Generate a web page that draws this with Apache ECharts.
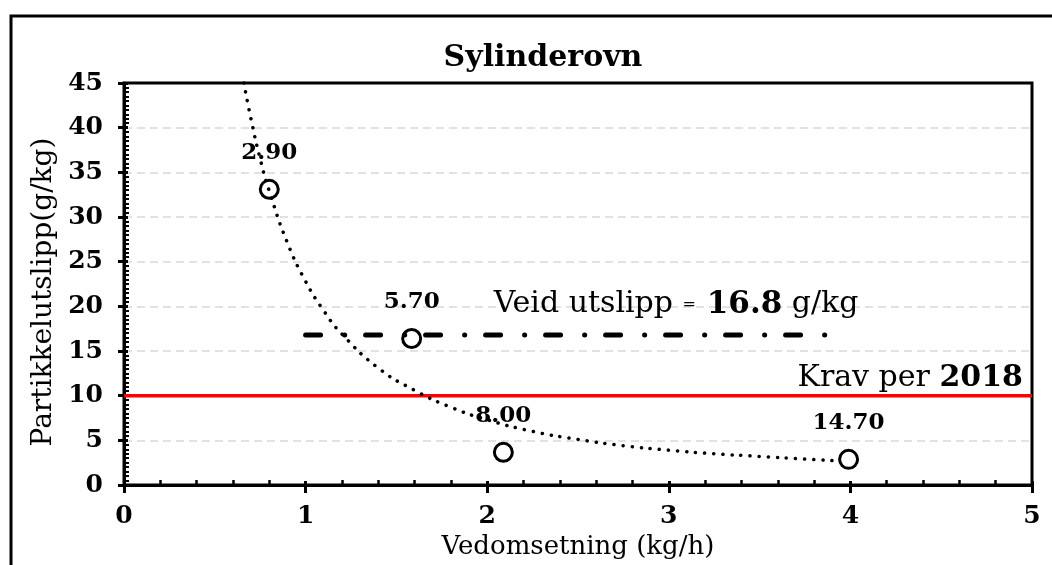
<!DOCTYPE html>
<html>
<head>
<meta charset="utf-8">
<title>Sylinderovn</title>
<script src="https://cdn.jsdelivr.net/npm/echarts@6/dist/echarts.min.js"></script>
<style>
  html, body { margin: 0; padding: 0; background: #fff; }
  #chart { width: 1052px; height: 565px; }
</style>
</head>
<body>
<div id="chart"></div>
<script>
// measured points
const burnRate = [0.8, 1.584, 2.089, 3.99];
const emission = [33.1, 16.4, 3.66, 2.87];
const pointLabels = ["2.90", "5.70", "8.00", "14.70"];

// dotted trend line
const trendX = [0.66, 0.7, 0.75, 0.8, 0.9, 1.0, 1.1, 1.2, 1.4, 1.6, 1.8, 2.0, 2.25, 2.5, 2.75, 3.0, 3.25, 3.5, 3.75, 3.93];
const trendY = [45.0, 40.9, 36.5, 32.9, 27.1, 22.8, 19.5, 16.9, 13.1, 10.6, 8.7, 7.3, 6.0, 5.1, 4.4, 3.9, 3.5, 3.2, 2.9, 2.7];

// weighted emission line and 2018 requirement
const weightedValue = 16.8;
const weightedFrom = 1.0;
const weightedTo = 3.89;
const limitValue = 10;
const limitYear = "2018";

// axis ranges
const xRange = [0, 5];
const yRange = [0, 45];

const serif = "'DejaVu Serif', 'Liberation Serif', serif";

function initChart() {
  const chart = echarts.init(document.getElementById("chart"));
  const option = {
    animation: false,
    backgroundColor: "#fff",
    title: {
      text: "Sylinderovn",
      left: 538,
      top: 38,
      textAlign: "center",
      textStyle: { fontFamily: serif, fontWeight: "bold", fontSize: 30, color: "#000" },
    },
    // outer frame of the chart area
    graphic: [
      {
        type: "rect",
        silent: true,
        shape: { x: 11, y: 16, width: 1200, height: 700 },
        style: { fill: "none", stroke: "#000", lineWidth: 3 },
      },
    ],
    grid: {
      left: 124,
      right: 20,
      top: 83,
      bottom: 80,
      show: true,
      borderColor: "#000",
      borderWidth: 3,
      backgroundColor: "transparent",
      outerBoundsMode: "none",
    },
    xAxis: [
      {
        type: "value",
        position: "bottom",
        min: xRange[0],
        max: xRange[1],
        interval: 1,
        axisLine: { show: true, onZero: false, lineStyle: { color: "#000", width: 3 } },
        axisTick: { show: true, inside: false, length: 8, lineStyle: { color: "#000", width: 3 } },
        axisLabel: { margin: 19, fontFamily: serif, fontWeight: "bold", fontSize: 25, color: "#000" },
        splitLine: { show: false },
        name: "Vedomsetning (kg/h)",
        nameLocation: "middle",
        nameGap: 49,
        nameTextStyle: { fontFamily: serif, fontSize: 26, color: "#000" },
      },
      {
        // inner ticks (minor ticks point into the plot)
        type: "value",
        position: "bottom",
        min: xRange[0],
        max: xRange[1],
        interval: 1,
        axisLine: { show: false },
        axisTick: { show: true, inside: true, length: 4, lineStyle: { color: "#000", width: 3 } },
        minorTick: { show: true, splitNumber: 5, length: 5, lineStyle: { color: "#000", width: 2.5 } },
        axisLabel: { show: false },
        splitLine: { show: false },
      },
    ],
    yAxis: [
      {
        type: "value",
        position: "left",
        min: yRange[0],
        max: yRange[1],
        interval: 5,
        axisLine: { show: true, onZero: false, lineStyle: { color: "#000", width: 3 } },
        axisTick: { show: true, inside: false, length: 6, lineStyle: { color: "#000", width: 3 } },
        axisLabel: { margin: 21, fontFamily: serif, fontWeight: "bold", fontSize: 25, color: "#000" },
        splitLine: {
          show: true,
          showMinLine: false,
          showMaxLine: false,
          lineStyle: { color: "#d9d9d9", width: 1.5, type: [8, 5] },
        },
        name: "Partikkelutslipp(g/kg)",
        nameLocation: "middle",
        nameRotate: 90,
        nameGap: 64,
        nameTextStyle: { fontFamily: serif, fontSize: 28, color: "#000", padding: [0, 16, 0, 0] },
      },
      {
        type: "value",
        position: "left",
        min: yRange[0],
        max: yRange[1],
        interval: 5,
        axisLine: { show: false },
        axisTick: { show: true, inside: true, length: 4, lineStyle: { color: "#000", width: 3 } },
        minorTick: { show: true, splitNumber: 10, length: 5, lineStyle: { color: "#000", width: 2 } },
        axisLabel: { show: false },
        splitLine: { show: false },
      },
    ],
    series: [
      {
        name: "Krav",
        type: "line",
        silent: true,
        symbol: "none",
        lineStyle: { color: "#ff0000", width: 3.5 },
        data: [
          [xRange[0], limitValue],
          [xRange[1], limitValue],
        ],
      },
      {
        name: "Veid utslipp",
        type: "line",
        silent: true,
        symbol: "none",
        lineStyle: { color: "#000", width: 5, type: [15, 24, 0.1, 20.9], cap: "round" },
        data: [
          [weightedFrom, weightedValue],
          [weightedTo, weightedValue],
        ],
      },
      {
        name: "Partikkelutslipp",
        type: "scatter",
        symbol: "circle",
        symbolSize: 18,
        itemStyle: { color: "#fff", borderColor: "#000", borderWidth: 3, opacity: 1 },
        label: {
          show: true,
          position: "top",
          distance: 14,
          formatter: (p) => pointLabels[p.dataIndex],
          fontFamily: serif,
          fontWeight: "bold",
          fontSize: 23,
          color: "#000",
        },
        data: burnRate.map((x, i) => [x, emission[i]]),
      },
      {
        name: "Trend",
        type: "line",
        silent: true,
        symbol: "none",
        smooth: true,
        lineStyle: { color: "#000", width: 3.5, type: [0.1, 9], cap: "round" },
        data: trendX.map((x, i) => [x, trendY[i]]),
      },
      {
        // text annotations
        name: "Tekst",
        type: "scatter",
        silent: true,
        symbolSize: 1,
        itemStyle: { color: "transparent", opacity: 1 },
        label: { color: "#000", opacity: 1 },
        data: [
          {
            value: [3.04, weightedValue + 3.4],
            label: {
              show: true,
              position: "inside",
              color: "#000",
              formatter: `{n|Veid utslipp }{s|=}{b| ${weightedValue}}{n| g/kg}`,
              rich: {
                n: { fontFamily: serif, fontSize: 30, color: "#000" },
                s: { fontFamily: serif, fontSize: 16, color: "#000" },
                b: { fontFamily: serif, fontSize: 31, fontWeight: "bold", color: "#000" },
              },
            },
          },
          {
            value: [4.95, limitValue + 2],
            label: {
              show: true,
              position: "inside",
              align: "right",
              color: "#000",
              formatter: `{n|Krav per }{b|${limitYear}}`,
              rich: {
                n: { fontFamily: serif, fontSize: 30, color: "#000" },
                b: { fontFamily: serif, fontSize: 30, fontWeight: "bold", color: "#000" },
              },
            },
          },
        ],
      },
    ],
  };
  chart.setOption(option);
  window.addEventListener("resize", () => {
    chart.resize();
  });
}

initChart();
</script>
</body>
</html>
